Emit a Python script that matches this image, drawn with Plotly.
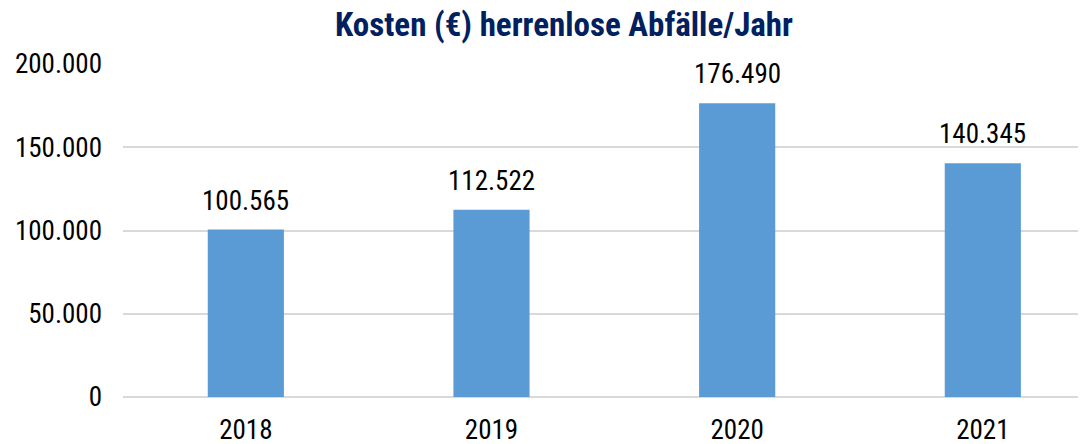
import plotly.graph_objects as go

years = ["2018", "2019", "2020", "2021"]
costs = [100565, 112522, 176490, 140345]
title_text = "Kosten (€) herrenlose Abfälle/Jahr"
y_ticks = [0, 50000, 100000, 150000, 200000]

FONT = "Roboto Condensed, Liberation Sans, sans-serif"

fig = go.Figure(
    go.Bar(
        x=years,
        y=costs,
        width=0.31,
        marker=dict(color="#5b9bd5", line=dict(width=0)),
        hoverinfo="x+y",
    )
)

# value labels above each bar, positioned via the data axes (category index)
for i, v in enumerate(costs):
    fig.add_annotation(
        x=i,
        y=v,
        xref="x",
        yref="y",
        text=f"{v:,}".replace(",", "."),
        showarrow=False,
        yanchor="bottom",
        yshift=11,
        font=dict(family=FONT, size=27, color="#000000"),
    )

fig.update_layout(
    width=1086,
    height=444,
    separators=",.",
    plot_bgcolor="white",
    paper_bgcolor="white",
    margin=dict(l=115, r=8, t=56, b=55),
    title=dict(
        text=title_text,
        x=0.512,
        xanchor="center",
        y=0.964,
        yanchor="middle",
        font=dict(family=FONT, size=33, color="#002060", weight="bold"),
    ),
    showlegend=False,
)

fig.update_xaxes(
    type="category",
    range=[-0.5, 3.42],
    automargin=False,
    showgrid=False,
    showline=False,
    ticks="",
    ticklabelstandoff=14,
    tickfont=dict(family=FONT, size=27, color="#000000"),
)
fig.update_yaxes(
    range=[0, 200000],
    automargin=False,
    tickvals=y_ticks,
    tickformat=",",
    showgrid=True,
    gridcolor="#d9d9d9",
    gridwidth=1.5,
    zeroline=True,
    zerolinecolor="#d9d9d9",
    zerolinewidth=1.5,
    ticks="",
    ticklabelstandoff=20,
    tickfont=dict(family=FONT, size=27, color="#000000"),
)

fig.write_html("out.html")
